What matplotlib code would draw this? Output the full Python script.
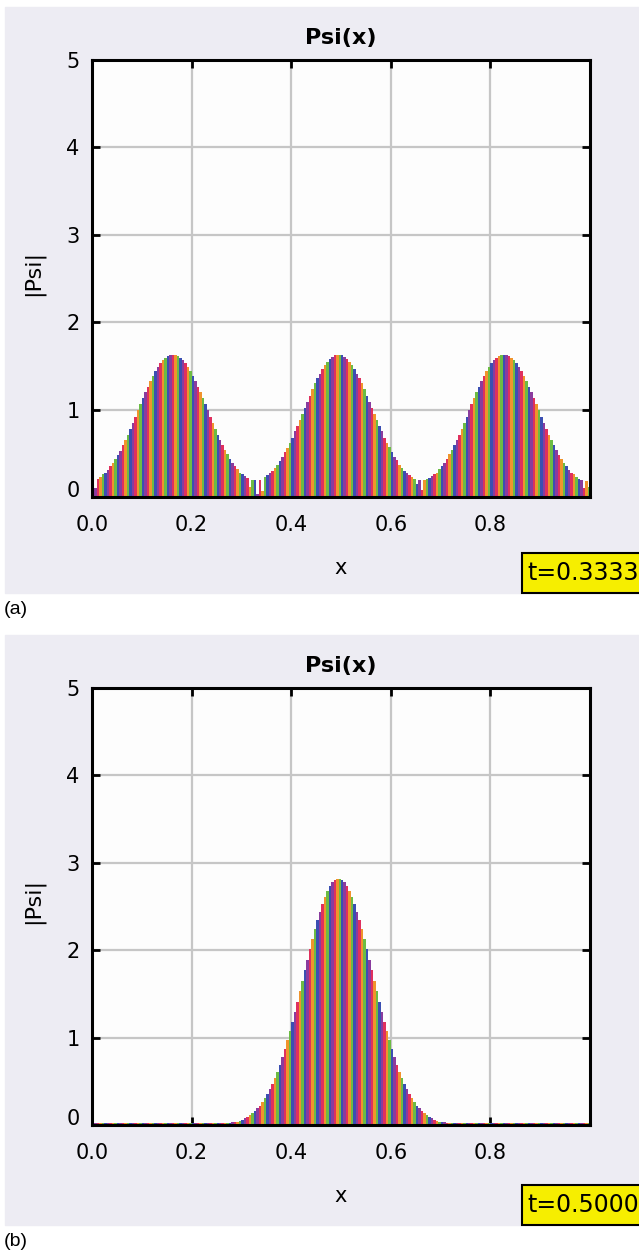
"""Psi(x) bar snapshots at two times (|Psi| coloured by phase)."""
import numpy as np
import matplotlib
matplotlib.use("Agg")
import matplotlib.pyplot as plt
import matplotlib.transforms as mtransforms
from matplotlib.patches import Rectangle

W, H = 639, 1253

# --- data: |Psi| on 200 cells of width 0.005 over [0, 1) ---
dx = 0.005
psi_a = [
    0.19, 0.10, 0.21, 0.23, 0.26, 0.28, 0.31, 0.35, 0.39, 0.43,
    0.48, 0.53, 0.59, 0.65, 0.71, 0.78, 0.85, 0.92, 0.99, 1.06,
    1.13, 1.20, 1.26, 1.33, 1.39, 1.44, 1.49, 1.53, 1.57, 1.59,
    1.61, 1.63, 1.63, 1.63, 1.61, 1.59, 1.57, 1.53, 1.49, 1.44,
    1.39, 1.33, 1.26, 1.20, 1.13, 1.06, 0.99, 0.92, 0.85, 0.78,
    0.71, 0.65, 0.59, 0.54, 0.49, 0.44, 0.39, 0.35, 0.32, 0.28,
    0.26, 0.24, 0.22, 0.12, 0.20, 0.19, 0.03, 0.19, 0.07, 0.23,
    0.25, 0.27, 0.30, 0.33, 0.37, 0.41, 0.46, 0.51, 0.56, 0.62,
    0.68, 0.75, 0.81, 0.88, 0.95, 1.02, 1.09, 1.16, 1.23, 1.30,
    1.36, 1.41, 1.46, 1.51, 1.55, 1.58, 1.60, 1.62, 1.63, 1.63,
    1.62, 1.60, 1.58, 1.55, 1.51, 1.46, 1.41, 1.36, 1.30, 1.23,
    1.16, 1.09, 1.02, 0.95, 0.88, 0.81, 0.75, 0.68, 0.62, 0.57,
    0.51, 0.46, 0.42, 0.37, 0.33, 0.30, 0.27, 0.25, 0.23, 0.21,
    0.15, 0.20, 0.08, 0.20, 0.21, 0.22, 0.24, 0.26, 0.28, 0.32,
    0.35, 0.39, 0.44, 0.49, 0.54, 0.59, 0.65, 0.71, 0.78, 0.85,
    0.92, 0.99, 1.06, 1.13, 1.20, 1.26, 1.33, 1.39, 1.44, 1.49,
    1.53, 1.57, 1.59, 1.61, 1.63, 1.63, 1.63, 1.61, 1.59, 1.57,
    1.53, 1.49, 1.44, 1.39, 1.33, 1.26, 1.20, 1.13, 1.06, 0.99,
    0.92, 0.85, 0.78, 0.71, 0.65, 0.59, 0.54, 0.48, 0.44, 0.39,
    0.35, 0.31, 0.28, 0.26, 0.23, 0.21, 0.20, 0.10, 0.18, 0.12,
]
psi_b = [
    0.02, 0.02, 0.02, 0.02, 0.02, 0.02, 0.02, 0.02, 0.02, 0.02,
    0.02, 0.02, 0.02, 0.02, 0.02, 0.02, 0.02, 0.02, 0.02, 0.02,
    0.02, 0.02, 0.02, 0.02, 0.02, 0.02, 0.02, 0.02, 0.02, 0.02,
    0.02, 0.02, 0.02, 0.02, 0.02, 0.02, 0.02, 0.02, 0.02, 0.02,
    0.02, 0.02, 0.02, 0.02, 0.02, 0.02, 0.02, 0.02, 0.02, 0.02,
    0.02, 0.02, 0.02, 0.02, 0.02, 0.02, 0.03, 0.03, 0.04, 0.05,
    0.06, 0.08, 0.09, 0.11, 0.14, 0.16, 0.19, 0.22, 0.26, 0.31,
    0.36, 0.41, 0.47, 0.54, 0.61, 0.69, 0.78, 0.87, 0.97, 1.07,
    1.18, 1.29, 1.41, 1.53, 1.65, 1.77, 1.89, 2.01, 2.13, 2.24,
    2.35, 2.44, 2.53, 2.61, 2.68, 2.73, 2.78, 2.80, 2.82, 2.82,
    2.80, 2.78, 2.73, 2.68, 2.61, 2.53, 2.44, 2.35, 2.24, 2.13,
    2.01, 1.89, 1.77, 1.65, 1.53, 1.41, 1.29, 1.18, 1.07, 0.97,
    0.87, 0.78, 0.69, 0.61, 0.54, 0.47, 0.41, 0.36, 0.31, 0.26,
    0.22, 0.19, 0.16, 0.14, 0.11, 0.09, 0.08, 0.06, 0.05, 0.04,
    0.03, 0.03, 0.02, 0.02, 0.02, 0.02, 0.02, 0.02, 0.02, 0.02,
    0.02, 0.02, 0.02, 0.02, 0.02, 0.02, 0.02, 0.02, 0.02, 0.02,
    0.02, 0.02, 0.02, 0.02, 0.02, 0.02, 0.02, 0.02, 0.02, 0.02,
    0.02, 0.02, 0.02, 0.02, 0.02, 0.02, 0.02, 0.02, 0.02, 0.02,
    0.02, 0.02, 0.02, 0.02, 0.02, 0.02, 0.02, 0.02, 0.02, 0.02,
    0.02, 0.02, 0.02, 0.02, 0.02, 0.02, 0.02, 0.02, 0.02, 0.02,
]
times = ["t=0.3333", "t=0.5000"]
panel_tags = ["(a)", "(b)"]
xticks = [0.0, 0.2, 0.4, 0.6, 0.8]
yticks = [0, 1, 2, 3, 4, 5]

# phase colour wheel cycled along x
PHASE = ["#3b4fb2", "#8a3c9e", "#e0305e", "#f0942c", "#6cbc44"]
BG = "#edecf3"

fig = plt.figure(figsize=(W / 100, H / 100), dpi=100)
fig.patch.set_facecolor("white")


def px(x, y):
    return x / W, 1 - y / H


# (grey top, grey bottom, axes top, axes bottom) in pixels
panels = [(7, 593, 60, 497), (635, 1225, 688, 1125)]
ax_l, ax_r = 92, 590

for (g0, g1, a0, a1), psi, tlab, tag in zip(panels, [psi_a, psi_b], times, panel_tags):
    fig.patches.append(Rectangle(px(5, g1), (W - 5) / W, (g1 - g0) / H,
                                 transform=fig.transFigure, color=BG, zorder=-5))
    ax = fig.add_axes([ax_l / W, 1 - a1 / H, (ax_r - ax_l) / W, (a1 - a0) / H])
    ax.set_zorder(1)
    ax.set_facecolor("#fdfdfd")
    x = np.arange(len(psi)) * dx
    cols = [PHASE[i % len(PHASE)] for i in range(len(psi))]
    ax.bar(x, psi, width=dx, align="edge", color=cols, linewidth=0, zorder=2)
    ax.set_xlim(0, 1)
    ax.set_ylim(0, 5)
    ax.set_xticks(xticks)
    ax.set_xticklabels([f"{v:.1f}" for v in xticks])
    ax.set_yticks(yticks)
    ax.set_yticklabels([str(v) for v in yticks])
    ax.set_axisbelow(True)
    ax.grid(True, color="#c6c6c6", lw=1.6)
    ax.tick_params(direction="in", length=6, width=2, top=True, right=True,
                   labelsize=15, colors="black")
    ax.tick_params(axis="x", pad=13)
    ax.tick_params(axis="y", pad=9)
    for s in ax.spines.values():
        s.set_linewidth(2.2)
    # bottom "0" label sits a little above the baseline in the original
    lab0 = ax.get_yticklabels()[0]
    lab0.set_transform(lab0.get_transform() +
                       mtransforms.ScaledTranslation(0, 8 / 100, fig.dpi_scale_trans))

    fig.text(*px(341, a0 - 22), "Psi(x)", ha="center", va="center",
             fontsize=16, fontweight="bold")
    fig.text(*px(33, (a0 + a1) / 2 - 6), "|Psi|", ha="center", va="center",
             rotation=90, fontsize=16)
    fig.text(*px(341, a1 + 71), "x", ha="center", va="center", fontsize=15)

    # yellow time box, running off the right edge
    fig.patches.append(Rectangle(px(522, g1), (W - 522 + 5) / W, 40 / H,
                                 transform=fig.transFigure, facecolor="#f6ee00",
                                 edgecolor="black", lw=1.5, zorder=3))
    fig.text(*px(527, g1 - 20), tlab, ha="left", va="center", fontsize=17, zorder=4)

    fig.text(*px(4, g1 + 16), tag, ha="left", va="center", fontsize=14,
             family="Liberation Sans")

fig.savefig("out.png", dpi=100)
